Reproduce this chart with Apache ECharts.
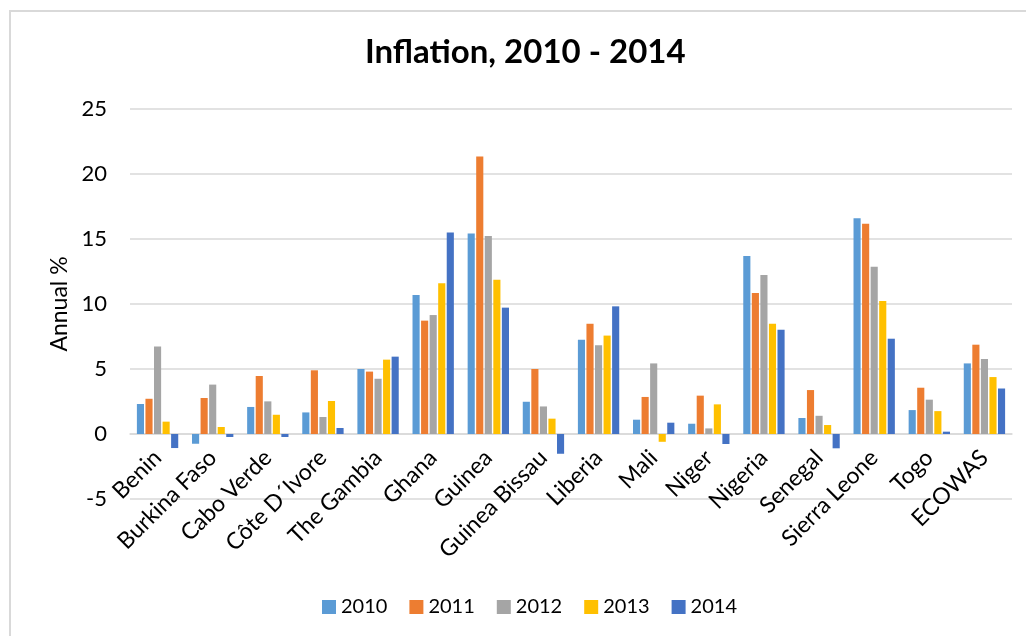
<!DOCTYPE html>
<html>
<head>
<meta charset="utf-8">
<script src="https://cdn.jsdelivr.net/npm/echarts@6/dist/echarts.min.js"></script>
<style>
html,body{margin:0;padding:0;background:#fff;}
#wrap{position:absolute;left:0;top:0;width:1026px;height:636px;overflow:hidden;}
#frame{position:absolute;left:9px;top:10px;width:1040px;height:660px;border:2px solid #D9D9D9;box-sizing:border-box;}
#chart{position:absolute;left:0;top:0;width:1026px;height:636px;}
</style>
</head>
<body>
<div id="wrap"><div id="frame"></div><div id="chart"></div></div>
<script>
const categories = ['Benin','Burkina Faso','Cabo Verde','Côte D´Ivore','The Gambia','Ghana','Guinea','Guinea Bissau','Liberia','Mali','Niger','Nigeria','Senegal','Sierra Leone','Togo','ECOWAS'];
const seriesNames = ['2010','2011','2012','2013','2014'];
const v2010 = [2.31,-0.75,2.08,1.66,5.0,10.7,15.43,2.48,7.25,1.1,0.79,13.7,1.23,16.6,1.84,5.43];
const v2011 = [2.71,2.77,4.46,4.9,4.8,8.72,21.35,5.0,8.48,2.85,2.95,10.85,3.38,16.18,3.56,6.87];
const v2012 = [6.74,3.8,2.51,1.31,4.25,9.15,15.23,2.12,6.82,5.43,0.43,12.23,1.4,12.87,2.64,5.77];
const v2013 = [0.95,0.54,1.48,2.54,5.72,11.6,11.87,1.18,7.57,-0.6,2.28,8.48,0.69,10.23,1.76,4.38];
const v2014 = [-1.08,-0.23,-0.23,0.46,5.95,15.5,9.72,-1.52,9.82,0.87,-0.77,8.02,-1.1,7.33,0.18,3.5];
const colors = ['#5B9BD5','#ED7D31','#A5A5A5','#FFC000','#4472C4'];
const values = [v2010,v2011,v2012,v2013,v2014];
const yMin = -5, yMax = 25, yStep = 5;

const FONT = 'Lato, "Open Sans", sans-serif';
const gridTop = 109, gridBottom = 137, chartH = 636;
// labels sit next to the zero line (Excel style): shift them up from the grid bottom
const plotH = chartH - gridTop - gridBottom;
const zeroOffset = plotH * (0 - yMin) / (yMax - yMin);

const chart = echarts.init(document.getElementById('chart'), null, {renderer:'canvas'});
chart.setOption({
  backgroundColor: 'transparent',
  animation: false,
  color: colors,
  title: {
    text: 'Inflation, 2010 - 2014',
    left: 360, top: 31,
    textStyle: {fontFamily: FONT, fontSize: 33, fontWeight: 'bold', color: '#000'}
  },
  legend: {
    data: seriesNames,
    left: 317, top: 592,
    itemWidth: 14, itemHeight: 14, itemGap: 22,
    icon: 'rect',
    textStyle: {fontFamily: FONT, fontSize: 20, color: '#000'}
  },
  grid: {left: 130, right: 14, top: gridTop, bottom: gridBottom, containLabel: false},
  xAxis: {
    type: 'category',
    data: categories,
    axisLine: {onZero: true, lineStyle: {color: '#D9D9D9', width: 1.5}},
    axisTick: {show: false},
    axisLabel: {interval: 0, rotate: 45, margin: 20 - zeroOffset, fontFamily: FONT, fontSize: 23, color: '#000'}
  },
  yAxis: {
    type: 'value',
    min: yMin, max: yMax, interval: yStep,
    name: 'Annual %',
    nameLocation: 'middle',
    nameGap: 57,
    nameTextStyle: {fontFamily: FONT, fontSize: 23, color: '#000'},
    axisLine: {show: false},
    axisTick: {show: false},
    axisLabel: {margin: 23, fontFamily: FONT, fontSize: 22, color: '#000'},
    splitLine: {lineStyle: {color: '#D9D9D9', width: 1.5}}
  },
  series: seriesNames.map((n, i) => ({
    name: n,
    type: 'bar',
    data: values[i],
    barGap: '20%',
    barCategoryGap: '25%',
    itemStyle: {color: colors[i]}
  }))
});
</script>
</body>
</html>
